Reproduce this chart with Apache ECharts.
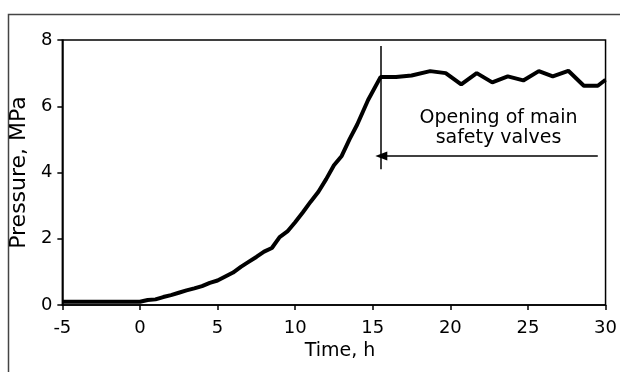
<!DOCTYPE html>
<html>
<head>
<meta charset="utf-8">
<script src="https://cdn.jsdelivr.net/npm/echarts@6/dist/echarts.min.js"></script>
<style>html,body{margin:0;padding:0;background:#fff}#c{width:620px;height:372px}</style>
</head>
<body>
<div id="c"></div>
<script>
// Time (h) and pressure (MPa)
var times = [-5, 0, 0.5, 1, 1.5, 2, 2.5, 3, 3.5, 4, 4.5, 5, 5.5, 6, 6.5, 7, 7.5, 8, 8.5, 9, 9.5, 10, 10.5, 11, 11.5, 12, 12.5, 13, 13.5, 14, 14.7, 15.5,
             16.5, 17.5, 18.7, 19.7, 20.7, 21.7, 22.7, 23.7, 24.7, 25.7, 26.6, 27.6, 28.6, 29.5, 30];
var pressures = [0.1, 0.1, 0.15, 0.17, 0.24, 0.3, 0.37, 0.44, 0.5, 0.57, 0.67, 0.74, 0.86, 0.98, 1.15, 1.3, 1.45, 1.61, 1.72, 2.05, 2.22, 2.5, 2.8, 3.12, 3.42, 3.8, 4.22, 4.5, 5.0, 5.45, 6.19, 6.88,
                 6.88, 6.93, 7.06, 7.0, 6.66, 7.0, 6.72, 6.9, 6.78, 7.06, 6.9, 7.07, 6.62, 6.62, 6.8];
var xTicks = [-5, 0, 5, 10, 15, 20, 25, 30];
var yTicks = [0, 2, 4, 6, 8];
var valveTime = 15.5;
var valveLineRange = [4.1, 7.82];
var arrowY = 4.5;
var arrowFrom = 29.5;
var noteText = 'Opening of main\nsafety valves';
var notePos = [23.1, 5.35];

var FONT = 'DejaVu Sans';
var chart = echarts.init(document.getElementById('c'), null, {renderer: 'canvas'});
var data = times.map(function (t, i) { return [t, pressures[i]]; });

chart.setOption({
  animation: false,
  backgroundColor: '#fff',
  graphic: [{
    type: 'rect', left: 6, top: 12, silent: true,
    shape: {width: 700, height: 500},
    style: {fill: 'none', stroke: '#444', lineWidth: 1.5}
  }],
  grid: {left: 59, right: 11, top: 40, bottom: 67, show: true, borderColor: '#000', borderWidth: 1.5, backgroundColor: 'transparent'},
  xAxis: {
    type: 'value', min: xTicks[0], max: xTicks[xTicks.length - 1], interval: 5,
    name: 'Time, h', nameLocation: 'middle', nameGap: 36,
    nameTextStyle: {fontFamily: FONT, fontSize: 19, color: '#000', padding: [0, 0, 0, 12]},
    axisLine: {show: true, onZero: false, lineStyle: {color: '#000', width: 1.5}},
    axisTick: {show: true, inside: false, length: 5, lineStyle: {color: '#000', width: 1.5}},
    axisLabel: {fontFamily: FONT, fontSize: 18, color: '#000', margin: 14},
    splitLine: {show: false}
  },
  yAxis: {
    type: 'value', min: yTicks[0], max: yTicks[yTicks.length - 1], interval: 2,
    name: 'Pressure, MPa', nameLocation: 'middle', nameGap: 31,
    nameTextStyle: {fontFamily: FONT, fontSize: 22, color: '#000'},
    axisLine: {show: true, onZero: false, lineStyle: {color: '#000', width: 1.5}},
    axisTick: {show: true, inside: false, length: 5, lineStyle: {color: '#000', width: 1.5}},
    axisLabel: {fontFamily: FONT, fontSize: 18, color: '#000', margin: 10},
    splitLine: {show: false}
  },
  series: [{
    type: 'line', data: data, showSymbol: false, symbol: 'none',
    lineStyle: {color: '#000', width: 4},
    markLine: {
      silent: true, animation: false,
      lineStyle: {color: '#000', width: 1.5, type: 'solid'},
      label: {show: false},
      data: [
        [{coord: [valveTime, valveLineRange[0]], symbol: 'none'}, {coord: [valveTime, valveLineRange[1]], symbol: 'none'}],
        [{coord: [arrowFrom, arrowY], symbol: 'none'}, {coord: [valveTime + 0.05, arrowY], symbol: 'triangle', symbolSize: [9, 12]}]
      ]
    },
    markPoint: {
      silent: true, animation: false,
      symbol: 'circle', symbolSize: 1,
      itemStyle: {color: 'rgba(0,0,0,0)'},
      label: {show: true, position: 'inside', formatter: noteText, fontFamily: FONT, fontSize: 19, lineHeight: 20, color: '#000', align: 'center'},
      data: [{coord: notePos}]
    }
  }]
});
</script>
</body>
</html>
